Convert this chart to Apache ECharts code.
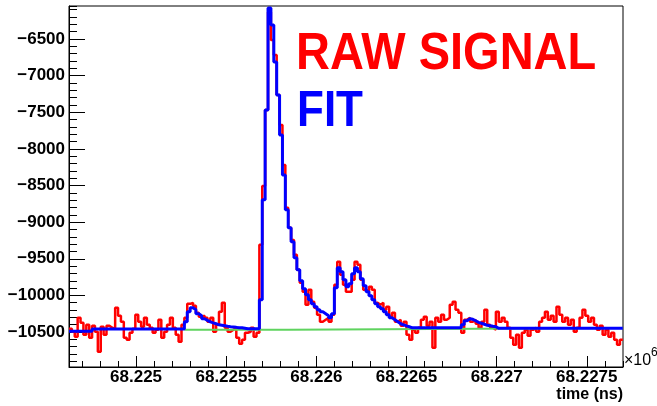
<!DOCTYPE html>
<html>
<head>
<meta charset="utf-8">
<script src="https://cdn.jsdelivr.net/npm/echarts@6/dist/echarts.min.js"></script>
<style>
  html, body { margin: 0; padding: 0; background: #ffffff; }
  #chart { width: 657px; height: 406px; }
</style>
</head>
<body>
<div id="chart"></div>
<script>
// Time axis in units of 10^6 ns; histogram bins of 16 ns.
const binStart = 68.224628;
const binWidth = 0.000016;
const timeMin = 68.224628;
const timeMax = 68.227701;
const ampMin = -10977;
const ampMax = -6050;

// Raw waveform, one value per bin (ADC counts)
const rawSignal = [
  -10456, -10496, -10565, -10306, -10374, -10537, -10401, -10578, -10415, -10496,
  -10769, -10428, -10537, -10415, -10442, -10456, -10169, -10278, -10360, -10578,
  -10606, -10510, -10456, -10265, -10360, -10428, -10306, -10401, -10442, -10510,
  -10469, -10333, -10578, -10496, -10401, -10306, -10442, -10537, -10633, -10401,
  -10306, -10115, -10101, -10142, -10237, -10292, -10278, -10306, -10360, -10306,
  -10496, -10401, -10224, -10101, -10442, -10496, -10469, -10442, -10578, -10660,
  -10606, -10510, -10496, -10442, -10565, -10510, -9310, -8505, -7468, -6132,
  -6514, -6718, -7264, -7673, -8219, -8805, -9078, -9242, -9446, -9651,
  -9828, -9951, -10128, -9924, -10087, -10169, -10265, -10360, -10333, -10306,
  -10360, -10265, -9855, -9542, -9719, -9855, -9951, -9951, -9787, -9542,
  -9583, -9787, -9924, -9951, -9883, -9924, -10101, -10128, -10101, -10196,
  -10155, -10292, -10237, -10360, -10333, -10415, -10360, -10537, -10606, -10469,
  -10510, -10442, -10333, -10292, -10415, -10360, -10715, -10306, -10360, -10265,
  -10333, -10306, -10128, -10087, -10196, -10237, -10510, -10333, -10306, -10360,
  -10333, -10387, -10442, -10360, -10196, -10401, -10442, -10469, -10224, -10360,
  -10306, -10360, -10442, -10578, -10674, -10537, -10715, -10510, -10469, -10551,
  -10469, -10442, -10496, -10360, -10306, -10224, -10333, -10278, -10360, -10155,
  -10265, -10360, -10306, -10401, -10333, -10496, -10442, -10306, -10196, -10278,
  -10360, -10306, -10401, -10469, -10415, -10537, -10469, -10565, -10510, -10606,
  -10674, -10606
];

// Fitted pulse model, evaluated per bin
const fitCurve = [
  -10490, -10490, -10490, -10490, -10490, -10490, -10490, -10490,
  -10460, -10460, -10460, -10460, -10460, -10460, -10460, -10460,
  -10460, -10460, -10460, -10460, -10460, -10460, -10460, -10460,
  -10460, -10460, -10460, -10460, -10460, -10460, -10460, -10460,
  -10460, -10460, -10460, -10460, -10460, -10460, -10460, -10460,
  -10360, -10224, -10169, -10196, -10251, -10278, -10319, -10340, -10360, -10374,
  -10387, -10401, -10408, -10415, -10422, -10428, -10432, -10436, -10442, -10442,
  -10449, -10456, -10456, -10456, -10456, -10456,
  -10060, -8696, -7468, -6077, -6309, -6814, -7264, -7809, -8355, -8832,
  -9078, -9269, -9487, -9651, -9801, -9910, -9992, -10060, -10115, -10155,
  -10196, -10224, -10251, -10278, -10306, -10251, -9896, -9624, -9678, -9787,
  -9883, -9842, -9705, -9624, -9678, -9774, -9869, -9951, -10005, -10060,
  -10115, -10155, -10183, -10224, -10265, -10306, -10333, -10360, -10387, -10401,
  -10415, -10428,
  -10442, -10442, -10442, -10442, -10442, -10442, -10442, -10442, -10442,
  -10442, -10442, -10442, -10442, -10442, -10442, -10442, -10442, -10442,
  -10401, -10346, -10319, -10326, -10346, -10367, -10380, -10394, -10408, -10415,
  -10422, -10428,
  -10449, -10449, -10449, -10449, -10449, -10449, -10449, -10449, -10449, -10449, -10449,
  -10449, -10449, -10449, -10449, -10449, -10449, -10449, -10449, -10449, -10449, -10449,
  -10449, -10449, -10449, -10449, -10449, -10449, -10449, -10449, -10449, -10449, -10449,
  -10449, -10449, -10449, -10449, -10449, -10449, -10449, -10449, -10449, -10449, -10449
];

// Baseline component of the fit: constant levels between bin edges
const baselineEdges = [40, 76, 192];
const baselineLevels = [-10469, -10446];

const font = '"Liberation Sans", Arial, Helvetica, sans-serif';

function histPoints(values) {
  const pts = values.map((v, i) => [binStart + i * binWidth, v]);
  pts.push([binStart + values.length * binWidth, values[values.length - 1]]);
  return pts;
}

function baselinePoints() {
  const pts = [];
  for (let k = 0; k < baselineLevels.length; k++) {
    pts.push([binStart + baselineEdges[k] * binWidth, baselineLevels[k]]);
    pts.push([binStart + baselineEdges[k + 1] * binWidth, baselineLevels[k]]);
  }
  return pts;
}

const chart = echarts.init(document.getElementById('chart'), null, { renderer: 'canvas' });

const majorX = {
  type: 'value', position: 'bottom', min: timeMin, max: timeMax, splitNumber: 6,
  axisLine: { show: true, onZero: false, lineStyle: { color: '#000', width: 1 } },
  axisTick: { show: true, inside: true, length: 11, lineStyle: { color: '#000', width: 1 } },
  axisLabel: {
    show: true, showMinLabel: false, showMaxLabel: false, margin: 2,
    color: '#000', fontSize: 17, fontWeight: 'bold', fontFamily: font,
    formatter: v => String(Number(v.toFixed(4)))
  },
  splitLine: { show: false }
};
const minorX = {
  type: 'value', position: 'bottom', min: timeMin, max: timeMax, splitNumber: 30,
  axisLine: { show: false, onZero: false },
  axisTick: { show: true, inside: true, length: 6, lineStyle: { color: '#000', width: 1 } },
  axisLabel: { show: false }, splitLine: { show: false }
};
const majorY = {
  type: 'value', position: 'left', min: ampMin, max: ampMax, splitNumber: 9,
  axisLine: { show: true, onZero: false, lineStyle: { color: '#000', width: 1 } },
  axisTick: { show: true, inside: true, length: 16, lineStyle: { color: '#000', width: 1 } },
  axisLabel: {
    show: true, showMinLabel: false, showMaxLabel: false, margin: 4,
    color: '#000', fontSize: 17, fontWeight: 'bold', fontFamily: font,
    formatter: v => String(v).replace('-', '\u2212')
  },
  splitLine: { show: false }
};
const minorY = {
  type: 'value', position: 'left', min: ampMin, max: ampMax, splitNumber: 45,
  axisLine: { show: false, onZero: false },
  axisTick: { show: true, inside: true, length: 8, lineStyle: { color: '#000', width: 1 } },
  axisLabel: { show: false }, splitLine: { show: false }
};

chart.setOption({
  animation: false,
  backgroundColor: '#ffffff',
  grid: {
    left: 69, right: 34, top: 6, bottom: 39,
    show: true, borderColor: '#000', borderWidth: 1, backgroundColor: 'transparent'
  },
  xAxis: [majorX, minorX],
  yAxis: [majorY, minorY],
  series: [
    {
      name: 'RAW SIGNAL', type: 'line', step: 'end', showSymbol: false, z: 2,
      xAxisIndex: 0, yAxisIndex: 0,
      lineStyle: { color: '#ff0000', width: 2.5 },
      data: histPoints(rawSignal)
    },
    {
      name: 'baseline', type: 'line', showSymbol: false, z: 3,
      xAxisIndex: 0, yAxisIndex: 0,
      lineStyle: { color: '#5fd35f', width: 2 },
      data: baselinePoints()
    },
    {
      name: 'FIT', type: 'line', step: 'end', showSymbol: false, z: 4,
      xAxisIndex: 0, yAxisIndex: 0,
      lineStyle: { color: '#0000ff', width: 3 },
      data: histPoints(fitCurve)
    }
  ],
  graphic: [
    {
      type: 'text', x: 296, y: 54, scaleY: 1.12, z: 10,
      style: {
        text: 'RAW SIGNAL', fill: '#ff0000', font: 'bold 47px ' + font,
        textAlign: 'left', textVerticalAlign: 'middle', align: 'left', verticalAlign: 'middle'
      }
    },
    {
      type: 'text', x: 297, y: 112, scaleY: 1.12, z: 10,
      style: {
        text: 'FIT', fill: '#0000ff', font: 'bold 44px ' + font,
        textAlign: 'left', textVerticalAlign: 'middle', align: 'left', verticalAlign: 'middle'
      }
    },
    {
      type: 'text', x: 624, y: 361, z: 10,
      style: {
        text: '\u00d710', fill: '#000', font: '16px ' + font,
        textAlign: 'left', textVerticalAlign: 'middle', align: 'left', verticalAlign: 'middle'
      }
    },
    {
      type: 'text', x: 651, y: 353, z: 10,
      style: {
        text: '6', fill: '#000', font: '12px ' + font,
        textAlign: 'left', textVerticalAlign: 'middle', align: 'left', verticalAlign: 'middle'
      }
    },
    {
      type: 'text', x: 623, y: 395, z: 10,
      style: {
        text: 'time (ns)', fill: '#000', font: 'bold 16px ' + font,
        textAlign: 'right', textVerticalAlign: 'middle', align: 'right', verticalAlign: 'middle'
      }
    }
  ]
});
</script>
</body>
</html>
